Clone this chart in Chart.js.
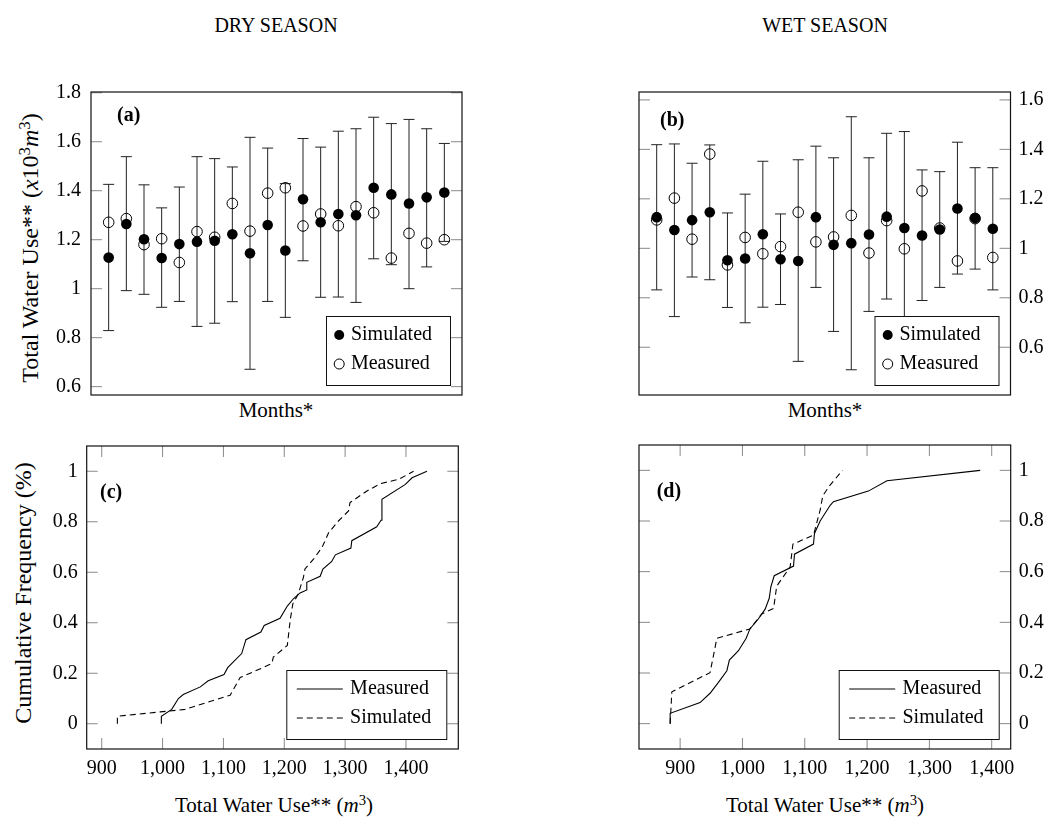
<!DOCTYPE html>
<html>
<head>
<meta charset="utf-8">
<script src="https://cdn.jsdelivr.net/npm/chart.js@4.4.1/dist/chart.umd.min.js"></script>
<style>
  body { margin: 0; background: #fff; }
  #page { position: relative; width: 1052px; height: 823px; overflow: hidden; font-family: 'Liberation Serif', 'Times New Roman', serif; color: #000; }
  canvas { position: absolute; }
  .lbl { position: absolute; white-space: nowrap; font-size: 21px; line-height: 24px; transform: translate(-50%, -50%); }
  .rot { font-size: 24px; line-height: 26px; transform: translate(-50%, -50%) rotate(-90deg); }
  sup { font-size: 0.7em; vertical-align: 0.45em; line-height: 0; }
</style>
</head>
<body>
<div id="page">
  <div class="lbl" style="left:276px;top:25px;font-size:20px">DRY SEASON</div>
  <div class="lbl" style="left:825px;top:25px;font-size:20px">WET SEASON</div>
  <div class="lbl" style="left:276px;top:410px">Months*</div>
  <div class="lbl" style="left:825px;top:410px">Months*</div>
  <div class="lbl" style="left:274px;top:805px">Total Water Use** (<i>m</i><sup>3</sup>)</div>
  <div class="lbl" style="left:825px;top:805px">Total Water Use** (<i>m</i><sup>3</sup>)</div>
  <div class="lbl rot" style="left:30px;top:248px">Total Water Use** (<i>x</i>10<sup>3</sup><i>m</i><sup>3</sup>)</div>
  <div class="lbl rot" style="left:23px;top:593px">Cumulative Frequency (%)</div>

  <canvas id="chartA" width="540" height="350" style="left:0;top:70px"></canvas>
  <canvas id="chartB" width="512" height="350" style="left:540px;top:70px"></canvas>
  <canvas id="chartC" width="540" height="360" style="left:0;top:425px"></canvas>
  <canvas id="chartD" width="512" height="360" style="left:540px;top:425px"></canvas>
</div>
<script>
// months (x positions of the monthly points)
var months = [1, 2, 3, 4, 5, 6, 7, 8, 9, 10, 11, 12, 13, 14, 15, 16, 17, 18, 19, 20];

// dry season, x10^3 m3
var drySimulated = [1.127, 1.264, 1.202, 1.125, 1.182, 1.192, 1.196, 1.222, 1.145, 1.260, 1.156, 1.365, 1.271, 1.305, 1.300, 1.412, 1.385, 1.348, 1.373, 1.393];
var dryMeasured  = [1.271, 1.286, 1.180, 1.204, 1.107, 1.233, 1.210, 1.348, 1.235, 1.390, 1.412, 1.256, 1.305, 1.257, 1.335, 1.310, 1.125, 1.226, 1.186, 1.200];
var dryUpper     = [1.426, 1.539, 1.424, 1.330, 1.415, 1.539, 1.531, 1.497, 1.618, 1.574, 1.429, 1.613, 1.578, 1.643, 1.653, 1.700, 1.674, 1.691, 1.653, 1.593];
var dryLower     = [0.829, 0.992, 0.977, 0.924, 0.948, 0.846, 0.859, 0.947, 0.671, 0.948, 0.883, 1.114, 0.965, 0.966, 0.944, 1.122, 1.098, 1.000, 1.089, 1.193];

// wet season, x10^3 m3
var wetSimulated = [1.126, 1.074, 1.114, 1.146, 0.952, 0.959, 1.057, 0.956, 0.949, 1.126, 1.014, 1.021, 1.056, 1.128, 1.082, 1.052, 1.076, 1.161, 1.123, 1.079];
var wetMeasured  = [1.115, 1.203, 1.037, 1.381, 0.933, 1.044, 0.978, 1.007, 1.146, 1.026, 1.046, 1.133, 0.981, 1.112, 0.998, 1.232, 1.082, 0.949, 1.120, 0.963];
var wetUpper     = [1.419, 1.422, 1.344, 1.418, 1.143, 1.219, 1.352, 1.139, 1.358, 1.413, 1.366, 1.532, 1.366, 1.465, 1.472, 1.317, 1.310, 1.429, 1.326, 1.326];
var wetLower     = [0.832, 0.724, 0.884, 0.873, 0.761, 0.699, 0.762, 0.773, 0.543, 0.842, 0.664, 0.509, 0.745, 0.795, 0.692, 0.789, 0.842, 0.896, 0.916, 0.832];

// cumulative frequency curves, m3
var dryMeasUse  = [998, 998, 1015, 1026, 1034, 1062, 1075, 1101, 1107, 1130, 1137, 1161.5, 1167, 1193, 1205, 1215, 1226, 1237, 1237, 1259, 1263.5, 1278, 1284, 1309.5, 1311, 1352, 1359, 1360.5, 1399, 1410, 1434.5];
var dryMeasFreq = [0, 0.03, 0.057, 0.10, 0.116, 0.146, 0.17, 0.195, 0.222, 0.278, 0.333, 0.363, 0.389, 0.418, 0.466, 0.495, 0.518, 0.53, 0.56, 0.584, 0.613, 0.643, 0.669, 0.696, 0.725, 0.78, 0.806, 0.889, 0.948, 0.974, 1.0];
var drySimUse   = [925.7, 925.7, 996, 1037, 1111, 1127.5, 1179.6, 1182, 1205, 1209.7, 1214, 1223, 1231.5, 1234, 1248, 1262, 1273, 1289, 1305.6, 1308, 1336, 1358, 1388, 1412.5];
var drySimFreq  = [0, 0.03, 0.047, 0.057, 0.113, 0.183, 0.238, 0.264, 0.31, 0.409, 0.475, 0.514, 0.58, 0.613, 0.652, 0.698, 0.757, 0.803, 0.843, 0.876, 0.922, 0.951, 0.968, 1.0];
var wetMeasUse  = [884, 884, 932, 948, 961.5, 975, 979, 993.6, 1006, 1012, 1025.7, 1036.4, 1043, 1045.6, 1051, 1082, 1083.5, 1114, 1115.6, 1124.7, 1140.8, 1146, 1202, 1232, 1381.5];
var wetMeasFreq = [0, 0.041, 0.083, 0.12, 0.163, 0.209, 0.251, 0.288, 0.337, 0.374, 0.414, 0.452, 0.495, 0.54, 0.584, 0.622, 0.669, 0.709, 0.751, 0.80, 0.862, 0.876, 0.918, 0.959, 1.0];
var wetSimUse   = [884, 886.7, 948, 959, 1012, 1031, 1050, 1055, 1076.6, 1081, 1114, 1124.7, 1129, 1140, 1160.5];
var wetSimFreq  = [0, 0.126, 0.201, 0.337, 0.374, 0.433, 0.455, 0.543, 0.619, 0.709, 0.744, 0.843, 0.90, 0.94, 1.0];

// tick labels
var dryTicks = [0.6, 0.8, 1, 1.2, 1.4, 1.6, 1.8];
var wetTicks = [0.6, 0.8, 1, 1.2, 1.4, 1.6];
var freqTicks = [0, 0.2, 0.4, 0.6, 0.8, 1];
var useTicks = [900, 1000, 1100, 1200, 1300, 1400];

Chart.defaults.font.family = "'Liberation Serif', 'Times New Roman', serif";
Chart.defaults.font.size = 20;
Chart.defaults.color = '#000';

var FONT = "'Liberation Serif', 'Times New Roman', serif";
var extras = {};

function pts(xs, ys) {
  return xs.map(function (x, i) { return { x: x, y: ys[i] }; });
}

function fixedTicks(list) {
  return function (scale) {
    scale.ticks = list.map(function (v) { return { value: v }; });
  };
}

var panelPlugin = {
  id: 'panel',
  beforeDatasetsDraw: function (chart) {
    var ex = extras[chart.canvas.id];
    if (!ex.upper) return;
    var ctx = chart.ctx, xs = chart.scales.x, ys = chart.scales.y;
    ctx.save();
    ctx.strokeStyle = '#222';
    ctx.lineWidth = 1;
    months.forEach(function (m, i) {
      var x = xs.getPixelForValue(m);
      var y1 = ys.getPixelForValue(ex.lower[i]);
      var y2 = ys.getPixelForValue(ex.upper[i]);
      ctx.beginPath();
      ctx.moveTo(x, y1); ctx.lineTo(x, y2);
      ctx.moveTo(x - 5.5, y1); ctx.lineTo(x + 5.5, y1);
      ctx.moveTo(x - 5.5, y2); ctx.lineTo(x + 5.5, y2);
      ctx.stroke();
    });
    ctx.restore();
  },
  afterDatasetsDraw: function (chart) {
    var ex = extras[chart.canvas.id];
    var ctx = chart.ctx, a = chart.chartArea;
    ctx.save();
    // inward tick marks on all sides
    ctx.strokeStyle = '#8a8a8a';
    ctx.lineWidth = 1;
    ctx.beginPath();
    chart.scales.y.ticks.forEach(function (t) {
      var y = chart.scales.y.getPixelForValue(t.value);
      ctx.moveTo(a.left, y); ctx.lineTo(a.left + 11, y);
      ctx.moveTo(a.right, y); ctx.lineTo(a.right - 11, y);
    });
    if (ex.xTicks) {
      chart.scales.x.ticks.forEach(function (t) {
        var x = chart.scales.x.getPixelForValue(t.value);
        ctx.moveTo(x, a.top); ctx.lineTo(x, a.top + 11);
        ctx.moveTo(x, a.bottom); ctx.lineTo(x, a.bottom - 11);
      });
    }
    ctx.stroke();
    ctx.strokeStyle = '#111';
    ctx.lineWidth = 1.2;
    ctx.strokeRect(a.left, a.top, a.right - a.left, a.bottom - a.top);
    ctx.restore();
  },
  afterDraw: function (chart) {
    var ex = extras[chart.canvas.id];
    var ctx = chart.ctx, a = chart.chartArea;
    ctx.save();
    // panel letter
    ctx.font = 'bold 20px ' + FONT;
    ctx.fillStyle = '#000';
    ctx.textAlign = 'left';
    ctx.textBaseline = 'middle';
    ctx.fillText(ex.tag, a.left + ex.tagX, a.top + ex.tagY);

    // legend box in lower right corner
    var w = ex.legendW, h = 69;
    var x0 = a.right - 11.5 - w, y0 = a.bottom - 9.5 - h;
    ctx.fillStyle = '#fff';
    ctx.fillRect(x0, y0, w, h);
    ctx.strokeStyle = '#111';
    ctx.lineWidth = 1;
    ctx.strokeRect(x0, y0, w, h);
    ctx.font = '20px ' + FONT;
    chart.data.datasets.forEach(function (ds, i) {
      var cy = y0 + 18.5 + i * 29;
      ctx.strokeStyle = '#000';
      ctx.fillStyle = '#000';
      if (ex.markers) {
        ctx.beginPath();
        ctx.arc(x0 + 12.7, cy, 5, 0, Math.PI * 2);
        if (ds.pointBackgroundColor === '#000') ctx.fill(); else ctx.stroke();
        ctx.fillText(ds.label, x0 + 24.4, cy);
      } else {
        ctx.setLineDash(ds.borderDash || []);
        ctx.beginPath();
        ctx.moveTo(x0 + 10, cy); ctx.lineTo(x0 + 56, cy);
        ctx.stroke();
        ctx.setLineDash([]);
        ctx.fillText(ds.label, x0 + 63.3, cy);
      }
    });
    ctx.restore();
  }
};

function numLabel(v) {
  return String(+v.toFixed(1));
}

// monthly panels (a) and (b)
function monthChart(id, sim, meas, upper, lower, ticks, yMin, yMax, side, pad, axisW) {
  extras[id] = {
    upper: upper, lower: lower, markers: true, legendW: 124,
    tag: side === 'left' ? '(a)' : '(b)',
    tagX: side === 'left' ? 26 : 21, tagY: side === 'left' ? 24 : 29
  };
  return new Chart(document.getElementById(id), {
    type: 'scatter',
    data: {
      datasets: [{
        label: 'Simulated',
        data: pts(months, sim),
        pointRadius: 5.3,
        pointBackgroundColor: '#000',
        pointBorderColor: '#000',
        pointBorderWidth: 0
      }, {
        label: 'Measured',
        data: pts(months, meas),
        pointRadius: 5.3,
        pointBackgroundColor: 'rgba(0,0,0,0)',
        pointBorderColor: '#000',
        pointBorderWidth: 1
      }]
    },
    options: {
      responsive: false,
      devicePixelRatio: 1,
      animation: false,
      events: [],
      layout: { padding: pad },
      plugins: { legend: { display: false }, tooltip: { enabled: false } },
      scales: {
        x: { type: 'linear', min: 0, max: 21, display: false },
        y: {
          type: 'linear', position: side, min: yMin, max: yMax,
          grid: { display: false, drawTicks: false },
          border: { display: false },
          afterBuildTicks: fixedTicks(ticks),
          afterFit: function (s) { s.width = axisW; },
          ticks: { padding: side === 'left' ? 10 : 8, callback: numLabel }
        }
      }
    },
    plugins: [panelPlugin]
  });
}

// cumulative frequency panels (c) and (d)
function cdfChart(id, measX, measY, simX, simY, xMin, xMax, side, pad, axisW, tag, tagX) {
  extras[id] = { xTicks: true, markers: false, legendW: 160, tag: tag, tagX: tagX, tagY: 47 };
  return new Chart(document.getElementById(id), {
    type: 'scatter',
    data: {
      datasets: [{
        label: 'Measured',
        data: pts(measX, measY),
        showLine: true,
        pointRadius: 0,
        borderColor: '#000',
        borderWidth: 1.1
      }, {
        label: 'Simulated',
        data: pts(simX, simY),
        showLine: true,
        pointRadius: 0,
        borderColor: '#000',
        borderWidth: 1.1,
        borderDash: [6, 4]
      }]
    },
    options: {
      responsive: false,
      devicePixelRatio: 1,
      animation: false,
      events: [],
      layout: { padding: pad },
      plugins: { legend: { display: false }, tooltip: { enabled: false } },
      scales: {
        x: {
          type: 'linear', min: xMin, max: xMax,
          grid: { display: false, drawTicks: false },
          border: { display: false },
          afterBuildTicks: fixedTicks(useTicks),
          afterFit: function (s) { s.height = 36; },
          ticks: { padding: 8, maxRotation: 0, callback: function (v) { return v.toLocaleString('en-US'); } }
        },
        y: {
          type: 'linear', position: side, min: -0.1, max: 1.1,
          grid: { display: false, drawTicks: false },
          border: { display: false },
          afterBuildTicks: fixedTicks(freqTicks),
          afterFit: function (s) { s.width = axisW; },
          ticks: { padding: side === 'left' ? 9 : 8, callback: numLabel }
        }
      }
    },
    plugins: [panelPlugin]
  });
}

monthChart('chartA', drySimulated, dryMeasured, dryUpper, dryLower, dryTicks, 0.566, 1.803, 'left',
  { left: 0, top: 22, right: 78, bottom: 25 }, 91);
monthChart('chartB', wetSimulated, wetMeasured, wetUpper, wetLower, wetTicks, 0.407, 1.632, 'right',
  { left: 99, top: 22, right: 0, bottom: 25 }, 41.5);
cdfChart('chartC', dryMeasUse, dryMeasFreq, drySimUse, drySimFreq, 875.3, 1486, 'left',
  { left: 0, top: 20, right: 81.7, bottom: 0 }, 86.7, '(c)', 13.3);
cdfChart('chartD', wetMeasUse, wetMeasFreq, wetSimUse, wetSimFreq, 834, 1430.5, 'right',
  { left: 99, top: 20, right: 0, bottom: 0 }, 41.3, '(d)', 17.7);
</script>
</body>
</html>
